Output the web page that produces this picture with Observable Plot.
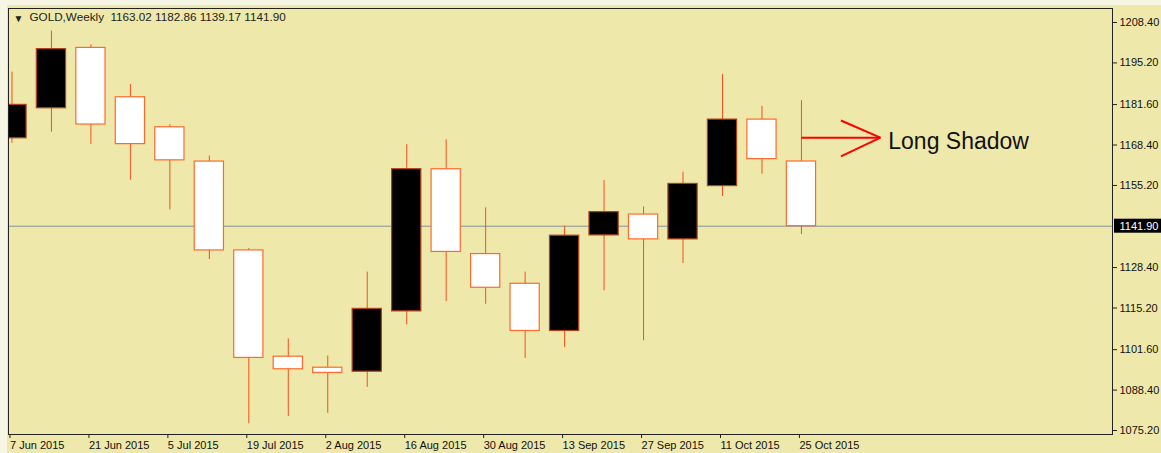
<!DOCTYPE html>
<html>
<head>
<meta charset="utf-8">
<script src="https://cdn.jsdelivr.net/npm/d3@7"></script>
<script src="https://cdn.jsdelivr.net/npm/@observablehq/plot@0.6"></script>
<style>
  html, body { margin: 0; padding: 0; background: #EEE8AA; }
  #chart { position: relative; width: 1161px; height: 453px; }
  #chart::before { content: ""; position: absolute; left: 0; top: 0; width: 1161px; height: 5px; background: #F7F5E4; }
  #chart::after { content: ""; position: absolute; left: 0; top: 0; width: 7px; height: 453px; background: #F7F5E4; }
  #chart svg { display: block; position: relative; z-index: 1; }
</style>
</head>
<body>
<div id="chart"></div>
<script>
// ---- data ----
const symbol = "GOLD,Weekly";
const weeks = ["7 Jun 2015","14 Jun 2015","21 Jun 2015","28 Jun 2015","5 Jul 2015","12 Jul 2015","19 Jul 2015","26 Jul 2015","2 Aug 2015","9 Aug 2015","16 Aug 2015","23 Aug 2015","30 Aug 2015","6 Sep 2015","13 Sep 2015","20 Sep 2015","27 Sep 2015","4 Oct 2015","11 Oct 2015","18 Oct 2015","25 Oct 2015"];
const open  = [1170.6,1180.4,1200.1,1184.0,1174.2,1163.0,1134.0,1099.3,1095.7,1094.4,1114.1,1160.5,1132.8,1123.1,1107.7,1138.9,1145.7,1137.6,1155.0,1176.7,1163.02];
const high  = [1192.2,1205.6,1201.1,1188.2,1175.0,1164.8,1134.6,1105.1,1099.5,1126.9,1168.5,1170.1,1147.9,1126.9,1141.9,1156.8,1148.2,1159.5,1191.4,1181.0,1182.86];
const low   = [1169.0,1172.6,1168.6,1156.9,1147.2,1131.0,1077.4,1079.8,1080.8,1089.3,1109.7,1117.3,1116.4,1098.7,1102.3,1120.8,1104.5,1129.7,1151.6,1158.9,1139.17];
const close = [1181.5,1199.7,1175.1,1168.7,1163.4,1134.0,1098.9,1095.2,1094.0,1114.9,1160.5,1133.5,1121.8,1107.7,1138.8,1146.5,1137.6,1155.7,1176.7,1163.8,1141.90];
const yTicks = [1208.40,1195.20,1181.60,1168.40,1155.20,1128.40,1115.20,1101.60,1088.40,1075.20];
const xTickIdx = [0,2,4,6,8,10,12,14,16,18,20];
const annotationText = "Long Shadow";
// arrow annotation in data units (week index, price)
const arrowShaft = [{x1: 20, x2: 22, y1: 1170.8, y2: 1170.8}];
const arrowHead = [{x1: 21, x2: 22, y1: 1176.4, y2: 1170.8}, {x1: 21, x2: 22, y1: 1164.7, y2: 1170.8}];
const labelPos = [{x: 22.2, y: 1169.4, text: annotationText}];

// ---- table ----
const candles = weeks.map((w, i) => ({
  i, week: w, open: open[i], high: high[i], low: low[i], close: close[i], up: close[i] >= open[i]
}));
const last = candles[candles.length - 1];
const header = `${symbol} \u00a0${last.open.toFixed(2)} ${last.high.toFixed(2)} ${last.low.toFixed(2)} ${last.close.toFixed(2)}`;

const wickColor = "#F4511E";
const halfW = 0.37;

// custom mark: black box behind the current price label in the right margin
function priceBox(value) {
  return (index, scales, values, dims) => {
    const ns = "http://www.w3.org/2000/svg";
    const y = scales.y(value);
    const x0 = dims.width - dims.marginRight + 2;
    const r = document.createElementNS(ns, "rect");
    r.setAttribute("x", x0); r.setAttribute("y", y - 7);
    r.setAttribute("width", dims.marginRight - 2); r.setAttribute("height", 14);
    r.setAttribute("fill", "#000");
    return r;
  };
}

const plot = Plot.plot({
  width: 1161,
  height: 453,
  marginLeft: 8,
  marginRight: 49,
  marginTop: 8,
  marginBottom: 19,
  style: {background: "transparent", fontFamily: "'Liberation Sans', Arial, sans-serif", fontSize: "11px", color: "#111", overflow: "visible"},
  x: {type: "linear", domain: [-0.088, 27.88], axis: null},
  y: {type: "linear", domain: [1073.9, 1212.97], axis: null},
  marks: [
    Plot.ruleY([last.close], {stroke: "#8593A0", strokeWidth: 1}),
    Plot.ruleX(candles, {x: "i", y1: "low", y2: "high", stroke: wickColor, strokeWidth: 1, clip: true}),
    Plot.rect(candles, {
      x1: d => d.i - halfW, x2: d => d.i + halfW,
      y1: d => Math.min(d.open, d.close), y2: d => Math.max(d.open, d.close),
      fill: d => d.up ? "#000000" : "#FFFFFF",
      stroke: d => d.up ? "#B0421A" : "#FF6A2C",
      strokeWidth: 1.2,
      clip: true
    }),
    Plot.frame({stroke: "#222", strokeWidth: 1}),
    Plot.axisY({anchor: "right", ticks: yTicks, tickFormat: d => d.toFixed(2), tickSize: 4, tickPadding: 3, stroke: "#222", fill: "#111", fontSize: 11}),
    Plot.axisX({anchor: "bottom", ticks: xTickIdx, tickFormat: i => weeks[i], tickSize: 4, tickPadding: 3, textAnchor: "start", dx: -2, stroke: "#222", fill: "#111", fontSize: 11}),
    Plot.link(arrowShaft, {x1: "x1", x2: "x2", y1: "y1", y2: "y2", stroke: "#FF0000", strokeWidth: 2}),
    Plot.link(arrowHead, {x1: "x1", x2: "x2", y1: "y1", y2: "y2", stroke: "#FF0000", strokeWidth: 2}),
    Plot.text(labelPos, {x: "x", y: "y", text: "text", textAnchor: "start", fontSize: 23, fill: "#111"}),
    Plot.text(["▼"], {frameAnchor: "top-left", dx: 5, dy: 6, fontSize: 10, fill: "#222", textAnchor: "start", lineAnchor: "top"}),
    Plot.text([header], {frameAnchor: "top-left", dx: 21, dy: 4, fontSize: 11.7, fill: "#222", textAnchor: "start", lineAnchor: "top"}),
    priceBox(last.close),
    Plot.text([last.close], {y: d => d, text: d => d.toFixed(2), frameAnchor: "right", textAnchor: "start", dx: 7, fill: "#FFFFFF", fontSize: 11, clip: false})
  ]
});

document.getElementById("chart").appendChild(plot);
</script>
</body>
</html>
